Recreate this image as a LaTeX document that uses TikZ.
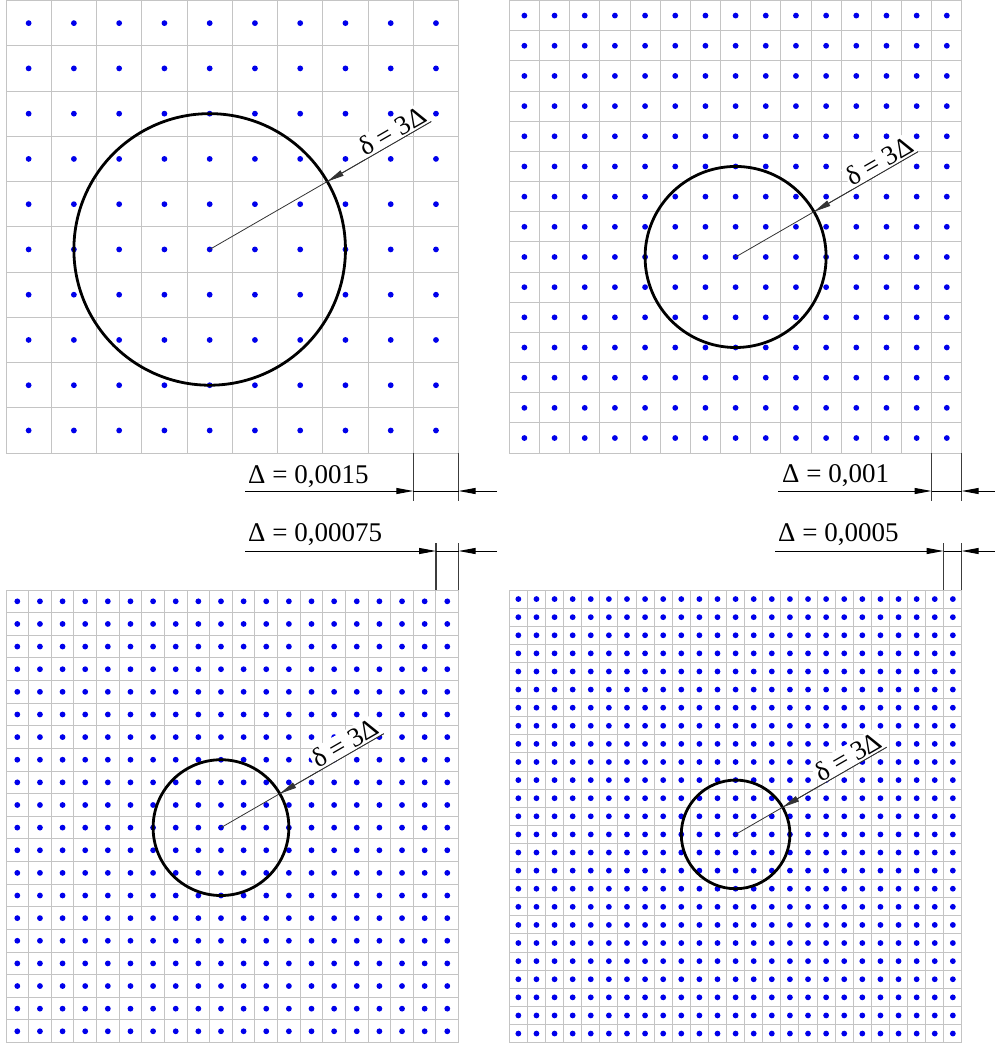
\documentclass[tikz,border=0pt]{standalone}
\usepackage{fontspec}
\setmainfont{Liberation Serif}
\definecolor{meshgray}{RGB}{196,196,196}
\definecolor{nodeblue}{RGB}{0,0,235}
\definecolor{dimgray}{RGB}{60,60,60}
\usetikzlibrary{arrows.meta, calc}

\tikzset{
  meshline/.style={meshgray, line width=1pt},
  meshdot/.style={fill=nodeblue},
  zone/.style={black, line width=2.8pt},
  radius line/.style={black!80, line width=0.8pt},
  dimline/.style={black, line width=1pt},
  extline/.style={dimgray, line width=1.2pt},
  dimtip/.style={-{Triangle[length=17pt,width=6pt]}},
  dimlabel/.style={font=\fontsize{27}{30}\selectfont, inner sep=0pt, anchor=base west},
  rlabel/.style={font=\fontsize{27}{30}\selectfont, text=black, fill=white, inner sep=1.5pt, sloped, anchor=south east}
}

% one mesh: left, top, cells per side, column and row of the centre node, suffix
\newcommand{\meshpanel}[6]{%
  \pgfmathsetmacro{\cellw}{452.6/#3}
  \pgfmathtruncatemacro{\lastcell}{#3-1}
  \foreach \k in {0,...,#3}{
    \draw[meshline] ({#1+\k*\cellw},#2) -- ({#1+\k*\cellw},{#2+452.6});
    \draw[meshline] (#1,{#2+\k*\cellw}) -- ({#1+452.6},{#2+\k*\cellw});
  }
  \foreach \i in {0,...,\lastcell}
    \foreach \j in {0,...,\lastcell}
      \fill[meshdot] ({#1+(\i+0.5)*\cellw},{#2+(\j+0.5)*\cellw}) circle (2.9);
  \coordinate (ctr#6) at ({#1+(#4+0.5)*\cellw},{#2+(#5+0.5)*\cellw});
  \coordinate (rim#6) at ($(ctr#6)+(-30:{3*\cellw})$);
  \coordinate (tail#6) at ($(ctr#6)+(-30:{3*\cellw+120})$);
  \draw[zone] (ctr#6) circle ({3*\cellw});
  \draw[radius line] (ctr#6) -- (tail#6) node[rlabel, pos=1] (lab#6) {δ = 3Δ};
  \draw[radius line, dimtip] (tail#6) -- (rim#6);
}

\begin{document}
\begin{tikzpicture}[x=1pt, y=-1pt]
\useasboundingbox (0,0) rectangle (995,1047);

% Meshes
\meshpanel{6}{0.5}{10}{4}{5}{A}
\meshpanel{509.3}{0.5}{15}{7}{8}{B}
\meshpanel{6}{590}{20}{9}{10}{C}
\meshpanel{509.3}{590}{25}{12}{13}{D}

% Cell size, top left
\coordinate (dA0) at (245,491);
\coordinate (dA1) at (413.3,491);
\coordinate (dA2) at (458.6,491);
\coordinate (dA3) at (497,491);
\draw[extline] (413.3,453) -- (413.3,501);
\draw[extline] (458.6,453) -- (458.6,501);
\draw[dimline, dimtip] (dA0) -- (dA1);
\draw[dimline] (dA1) -- (dA2);
\draw[dimline, dimtip] (dA3) -- (dA2);
\node[dimlabel] (lenA) at (248,483) {Δ = 0,0015};

% Cell size, top right
\coordinate (dB0) at (778,491);
\coordinate (dB1) at (931.5,491);
\coordinate (dB2) at (961.7,491);
\coordinate (dB3) at (995,491);
\draw[extline] (931.5,453) -- (931.5,501);
\draw[extline] (961.7,453) -- (961.7,501);
\draw[dimline, dimtip] (dB0) -- (dB1);
\draw[dimline] (dB1) -- (dB2);
\draw[dimline, dimtip] (dB3) -- (dB2);
\node[dimlabel] (lenB) at (782,482) {Δ = 0,001};

% Cell size, bottom left
\coordinate (dC0) at (245,551);
\coordinate (dC1) at (436,551);
\coordinate (dC2) at (458.6,551);
\coordinate (dC3) at (497,551);
\draw[extline] (436,590) -- (436,543);
\draw[extline] (458.6,590) -- (458.6,543);
\draw[dimline, dimtip] (dC0) -- (dC1);
\draw[dimline] (dC1) -- (dC2);
\draw[dimline, dimtip] (dC3) -- (dC2);
\node[dimlabel] (lenC) at (248,541.5) {Δ = 0,00075};

% Cell size, bottom right
\coordinate (dD0) at (775,551);
\coordinate (dD1) at (943.6,551);
\coordinate (dD2) at (961.7,551);
\coordinate (dD3) at (995,551);
\draw[extline] (943.6,590) -- (943.6,543);
\draw[extline] (961.7,590) -- (961.7,543);
\draw[dimline, dimtip] (dD0) -- (dD1);
\draw[dimline] (dD1) -- (dD2);
\draw[dimline, dimtip] (dD3) -- (dD2);
\node[dimlabel] (lenD) at (778,541.5) {Δ = 0,0005};
\end{tikzpicture}
\end{document}
